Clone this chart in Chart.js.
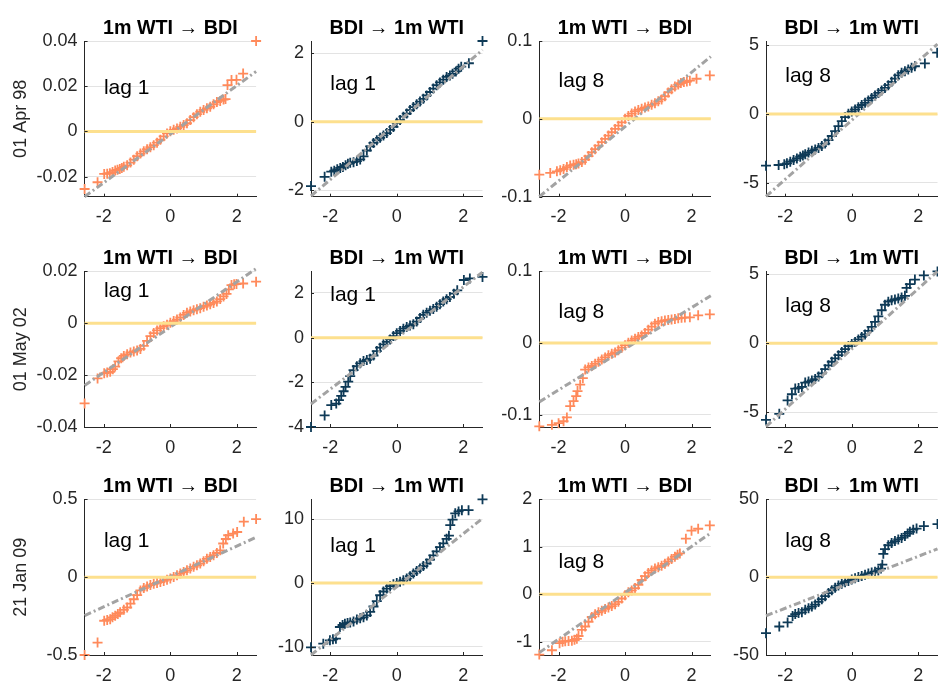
<!DOCTYPE html>
<html>
<head>
<meta charset="utf-8">
<script src="https://cdn.jsdelivr.net/npm/chart.js@4.4.0/dist/chart.umd.min.js"></script>
<style>
  html, body { margin: 0; padding: 0; background: #fff; width: 938px; height: 682px; overflow: hidden; }
  .panel { position: absolute; }
</style>
</head>
<body>
<script>
// Normal QQ plots of the residuals, one row per break date, one column per direction/lag.
const rowDates = ['01 Apr 98', '01 May 02', '21 Jan 09'];
const colTitles = ['1m WTI \u2192 BDI', 'BDI \u2192 1m WTI', '1m WTI \u2192 BDI', 'BDI \u2192 1m WTI'];
const colLags = ['lag 1', 'lag 1', 'lag 8', 'lag 8'];
const normalRange = [-2.58, 2.58];
const normalTicks = [-2, 0, 2];

// [standard normal quantile, sample quantile]
const apr98_wtiBdi_lag1 = [
  [-2.58,-0.0255],[-2.19,-0.0225],[-1.99,-0.0188],[-1.90,-0.0187],[-1.82,-0.0185],[-1.74,-0.0180],[-1.66,-0.0173],
  [-1.59,-0.0170],[-1.52,-0.0166],[-1.46,-0.0162],[-1.4,-0.0157],[-1.3,-0.0150],[-1.2,-0.0138],[-1.1,-0.0125],
  [-1.0,-0.0110],[-0.9,-0.0098],[-0.8,-0.0088],[-0.7,-0.0079],[-0.6,-0.0070],[-0.5,-0.0061],[-0.4,-0.0050],
  [-0.3,-0.0037],[-0.2,-0.0022],[-0.1,-0.0009],[0,0.0001],[0.1,0.0007],[0.2,0.0013],[0.3,0.0020],[0.4,0.0028],
  [0.5,0.0036],[0.6,0.0050],[0.7,0.0063],[0.8,0.0076],[0.9,0.0087],[1.0,0.0095],[1.1,0.0102],[1.2,0.0109],
  [1.3,0.0120],[1.4,0.0130],[1.5,0.0135],[1.6,0.0141],[1.66,0.0143],[1.72,0.0205],[1.84,0.0227],[1.99,0.0228],
  [2.19,0.0256],[2.58,0.0400]
];
const apr98_bdiWti_lag1 = [
  [-2.58,-1.88],[-2.17,-1.61],[-1.97,-1.46],[-1.88,-1.43],[-1.79,-1.39],[-1.70,-1.35],[-1.62,-1.32],[-1.54,-1.27],
  [-1.47,-1.23],[-1.4,-1.20],[-1.3,-1.18],[-1.2,-1.15],[-1.1,-1.10],[-1.0,-1.01],[-0.9,-0.84],[-0.8,-0.72],
  [-0.7,-0.62],[-0.6,-0.54],[-0.5,-0.47],[-0.4,-0.40],[-0.3,-0.33],[-0.2,-0.24],[-0.1,-0.15],[0,-0.03],[0.1,0.05],
  [0.2,0.15],[0.3,0.24],[0.4,0.34],[0.5,0.43],[0.6,0.51],[0.7,0.59],[0.8,0.67],[0.9,0.77],[1.0,0.87],[1.1,0.97],
  [1.2,1.07],[1.3,1.15],[1.4,1.23],[1.5,1.31],[1.6,1.35],[1.68,1.40],[1.78,1.47],[1.86,1.55],[1.94,1.61],
  [2.17,1.71],[2.58,2.36]
];
const apr98_wtiBdi_lag8 = [
  [-2.58,-0.0717],[-2.25,-0.0695],[-2.05,-0.0674],[-1.95,-0.0660],[-1.85,-0.0644],[-1.75,-0.0620],[-1.65,-0.0600],
  [-1.55,-0.0590],[-1.47,-0.0582],[-1.4,-0.0575],[-1.3,-0.0555],[-1.2,-0.0525],[-1.1,-0.0478],[-1.0,-0.0430],
  [-0.9,-0.0390],[-0.8,-0.0345],[-0.7,-0.0300],[-0.6,-0.0258],[-0.5,-0.0215],[-0.4,-0.0172],[-0.3,-0.0130],
  [-0.2,-0.0088],[-0.1,-0.0045],[0,0.0000],[0.1,0.0038],[0.2,0.0068],[0.3,0.0095],[0.4,0.0115],[0.5,0.0130],
  [0.6,0.0145],[0.7,0.0160],[0.8,0.0180],[0.9,0.0200],[1.0,0.0225],[1.1,0.0250],[1.2,0.0290],[1.3,0.0340],
  [1.4,0.0380],[1.5,0.0415],[1.6,0.0440],[1.68,0.0460],[1.77,0.0472],[1.86,0.0480],[1.95,0.0490],[2.15,0.0515],
  [2.55,0.0558]
];
const apr98_bdiWti_lag8 = [
  [-2.58,-3.76],[-2.20,-3.71],[-2.03,-3.65],[-1.95,-3.59],[-1.85,-3.47],[-1.75,-3.35],[-1.65,-3.23],[-1.55,-3.11],
  [-1.47,-3.02],[-1.4,-2.93],[-1.3,-2.80],[-1.2,-2.68],[-1.1,-2.58],[-1.0,-2.47],[-0.9,-2.33],[-0.8,-2.15],
  [-0.7,-1.90],[-0.6,-1.60],[-0.5,-1.25],[-0.4,-0.88],[-0.3,-0.52],[-0.2,-0.22],[-0.1,0.02],[0,0.18],[0.1,0.33],
  [0.2,0.50],[0.3,0.66],[0.4,0.82],[0.5,0.99],[0.6,1.17],[0.7,1.35],[0.8,1.54],[0.9,1.72],[1.0,1.90],[1.1,2.10],
  [1.2,2.35],[1.3,2.58],[1.4,2.82],[1.5,3.00],[1.6,3.12],[1.70,3.25],[1.80,3.38],[1.90,3.48],[2.20,3.69],
  [2.57,4.47]
];
const may02_wtiBdi_lag1 = [
  [-2.58,-0.0309],[-2.19,-0.0213],[-1.99,-0.0193],[-1.90,-0.0190],[-1.81,-0.0187],[-1.73,-0.0177],[-1.66,-0.0167],
  [-1.56,-0.0147],[-1.48,-0.0135],[-1.4,-0.0126],[-1.3,-0.0120],[-1.2,-0.0113],[-1.1,-0.0109],[-1.0,-0.0105],
  [-0.9,-0.0099],[-0.8,-0.0087],[-0.7,-0.0068],[-0.6,-0.0050],[-0.5,-0.0038],[-0.4,-0.0028],[-0.3,-0.0019],
  [-0.2,-0.0012],[-0.1,-0.0006],[0,0.0002],[0.1,0.0008],[0.2,0.0014],[0.3,0.0022],[0.4,0.0032],[0.5,0.0040],
  [0.6,0.0045],[0.7,0.0050],[0.8,0.0054],[0.9,0.0058],[1.0,0.0063],[1.1,0.0068],[1.2,0.0073],[1.3,0.0078],
  [1.4,0.0084],[1.5,0.0093],[1.6,0.0103],[1.69,0.0113],[1.76,0.0130],[1.84,0.0147],[1.92,0.0150],[1.99,0.0151],
  [2.19,0.0153],[2.58,0.0160]
];
const may02_bdiWti_lag1 = [
  [-2.58,-4.00],[-2.17,-3.48],[-1.97,-3.02],[-1.82,-2.95],[-1.74,-2.80],[-1.67,-2.61],[-1.60,-2.40],[-1.54,-2.20],
  [-1.46,-1.97],[-1.40,-1.72],[-1.3,-1.45],[-1.2,-1.28],[-1.1,-1.15],[-1.0,-1.05],[-0.9,-1.00],[-0.8,-0.94],
  [-0.7,-0.80],[-0.6,-0.60],[-0.5,-0.45],[-0.4,-0.30],[-0.3,-0.19],[-0.2,-0.08],[-0.1,0.07],[0,0.20],[0.1,0.30],
  [0.2,0.40],[0.3,0.48],[0.4,0.54],[0.5,0.60],[0.6,0.72],[0.7,0.88],[0.8,1.02],[0.9,1.12],[1.0,1.20],[1.1,1.28],
  [1.2,1.38],[1.3,1.50],[1.4,1.62],[1.5,1.72],[1.6,1.82],[1.72,1.97],[1.82,2.12],[2.02,2.58],[2.20,2.65],
  [2.58,2.72]
];
const may02_wtiBdi_lag8 = [
  [-2.58,-0.116],[-2.20,-0.114],[-2.00,-0.1116],[-1.85,-0.109],[-1.75,-0.1037],[-1.65,-0.088],[-1.55,-0.081],
  [-1.47,-0.074],[-1.43,-0.067],[-1.35,-0.058],[-1.27,-0.049],[-1.20,-0.037],[-1.1,-0.034],[-1.0,-0.032],
  [-0.9,-0.029],[-0.8,-0.026],[-0.7,-0.023],[-0.6,-0.020],[-0.5,-0.017],[-0.4,-0.015],[-0.3,-0.013],[-0.2,-0.010],
  [-0.1,-0.0065],[0,-0.003],[0.1,0.0005],[0.2,0.0035],[0.3,0.006],[0.4,0.0085],[0.5,0.0105],[0.6,0.014],
  [0.7,0.0186],[0.8,0.023],[0.9,0.027],[1.0,0.0295],[1.1,0.0305],[1.2,0.0315],[1.3,0.0322],[1.4,0.0328],
  [1.5,0.0335],[1.6,0.0345],[1.70,0.0352],[1.80,0.0355],[1.95,0.0358],[2.20,0.0386],[2.55,0.0400]
];
const may02_bdiWti_lag8 = [
  [-2.58,-5.56],[-2.18,-5.12],[-1.93,-4.15],[-1.80,-3.70],[-1.70,-3.29],[-1.60,-3.25],[-1.50,-3.17],[-1.4,-2.85],
  [-1.3,-2.78],[-1.2,-2.70],[-1.1,-2.60],[-1.0,-2.42],[-0.9,-2.18],[-0.8,-1.88],[-0.7,-1.60],[-0.6,-1.34],
  [-0.5,-1.10],[-0.4,-0.86],[-0.3,-0.63],[-0.2,-0.42],[-0.1,-0.20],[0,-0.05],[0.1,0.10],[0.2,0.28],[0.3,0.46],
  [0.4,0.64],[0.5,0.90],[0.6,1.20],[0.7,1.55],[0.8,1.95],[0.9,2.40],[1.0,2.80],[1.1,3.02],[1.2,3.12],[1.3,3.18],
  [1.4,3.25],[1.5,3.32],[1.6,3.45],[1.65,4.02],[1.75,4.30],[1.90,4.63],[2.17,4.93],[2.58,5.22]
];
const jan09_wtiBdi_lag1 = [
  [-2.58,-0.500],[-2.19,-0.420],[-1.99,-0.280],[-1.90,-0.275],[-1.81,-0.270],[-1.74,-0.258],[-1.66,-0.248],
  [-1.58,-0.236],[-1.51,-0.226],[-1.4,-0.210],[-1.3,-0.195],[-1.2,-0.170],[-1.1,-0.142],[-1.0,-0.115],[-0.9,-0.085],
  [-0.8,-0.070],[-0.7,-0.060],[-0.6,-0.051],[-0.5,-0.043],[-0.4,-0.037],[-0.3,-0.031],[-0.2,-0.024],[-0.1,-0.016],
  [0,-0.008],[0.1,0.001],[0.2,0.012],[0.3,0.023],[0.4,0.033],[0.5,0.044],[0.6,0.055],[0.7,0.066],[0.8,0.076],
  [0.9,0.087],[1.0,0.102],[1.1,0.118],[1.2,0.130],[1.3,0.141],[1.4,0.155],[1.5,0.172],[1.59,0.216],[1.67,0.245],
  [1.74,0.269],[1.89,0.280],[2.01,0.290],[2.21,0.356],[2.58,0.373]
];
const jan09_bdiWti_lag1 = [
  [-2.58,-10.1],[-2.21,-9.53],[-2.01,-9.00],[-1.92,-8.85],[-1.83,-8.74],[-1.71,-6.91],[-1.63,-6.60],[-1.56,-6.39],
  [-1.48,-6.30],[-1.4,-6.20],[-1.3,-6.05],[-1.2,-5.75],[-1.1,-5.55],[-1.0,-5.40],[-0.9,-5.10],[-0.8,-4.55],
  [-0.7,-3.70],[-0.6,-2.85],[-0.5,-1.94],[-0.4,-1.35],[-0.3,-0.89],[-0.2,-0.50],[-0.1,-0.21],[0,0.00],[0.1,0.16],
  [0.2,0.40],[0.3,0.68],[0.4,1.05],[0.5,1.47],[0.6,1.85],[0.7,2.25],[0.8,2.65],[0.9,3.04],[1.0,3.65],[1.1,4.30],
  [1.2,4.95],[1.3,5.60],[1.4,6.20],[1.5,6.90],[1.57,7.40],[1.61,9.06],[1.68,9.90],[1.76,10.9],[1.86,11.2],
  [1.96,11.4],[2.16,11.4],[2.58,13.1]
];
const jan09_wtiBdi_lag8 = [
  [-2.58,-1.27],[-2.20,-1.18],[-1.97,-1.03],[-1.88,-1.00],[-1.80,-0.99],[-1.70,-0.985],[-1.60,-0.98],[-1.52,-0.96],
  [-1.45,-0.94],[-1.4,-0.88],[-1.3,-0.75],[-1.2,-0.68],[-1.1,-0.58],[-1.0,-0.48],[-0.9,-0.42],[-0.8,-0.38],
  [-0.7,-0.35],[-0.6,-0.31],[-0.5,-0.28],[-0.4,-0.25],[-0.3,-0.21],[-0.2,-0.16],[-0.1,-0.09],[0,-0.02],[0.1,0.04],
  [0.2,0.08],[0.3,0.13],[0.4,0.20],[0.5,0.30],[0.6,0.38],[0.7,0.45],[0.8,0.50],[0.9,0.54],[1.0,0.57],[1.1,0.60],
  [1.2,0.64],[1.3,0.69],[1.4,0.74],[1.5,0.79],[1.58,0.83],[1.65,0.86],[1.83,1.17],[2.00,1.34],[2.20,1.38],
  [2.55,1.45]
];
const jan09_bdiWti_lag8 = [
  [-2.58,-36.0],[-2.18,-31.7],[-1.93,-29.1],[-1.78,-25.0],[-1.70,-23.7],[-1.60,-23.0],[-1.50,-22.6],[-1.4,-21.0],
  [-1.3,-20.0],[-1.2,-18.9],[-1.1,-17.6],[-1.0,-15.9],[-0.9,-14.2],[-0.8,-12.2],[-0.7,-10.2],[-0.6,-8.4],
  [-0.5,-6.8],[-0.4,-5.4],[-0.3,-4.2],[-0.2,-3.2],[-0.1,-2.4],[0,-1.5],[0.1,-0.7],[0.2,0.1],[0.3,0.8],[0.4,1.6],
  [0.5,2.4],[0.6,3.0],[0.7,3.5],[0.8,4.3],[0.88,5.5],[0.92,8.0],[0.95,15.0],[1.0,18.0],[1.1,20.5],[1.2,22.0],
  [1.3,23.2],[1.4,24.2],[1.5,25.2],[1.60,26.5],[1.68,28.0],[1.75,29.1],[1.85,30.5],[1.95,31.2],[2.17,32.8],
  [2.58,34.1]
];

const panelData = [
  apr98_wtiBdi_lag1, apr98_bdiWti_lag1, apr98_wtiBdi_lag8, apr98_bdiWti_lag8,
  may02_wtiBdi_lag1, may02_bdiWti_lag1, may02_wtiBdi_lag8, may02_bdiWti_lag8,
  jan09_wtiBdi_lag1, jan09_bdiWti_lag1, jan09_wtiBdi_lag8, jan09_bdiWti_lag8
];
const yLimits = [
  [-0.0289, 0.04], [-2.19, 2.36], [-0.1, 0.1], [-6.02, 5.32],
  [-0.04, 0.02], [-4, 2.97], [-0.117, 0.1], [-6.08, 5.23],
  [-0.5, 0.5], [-11.3, 13.1], [-1.28, 2], [-50, 50]
];
const yTickValues = [
  [-0.02, 0, 0.02, 0.04], [-2, 0, 2], [-0.1, 0, 0.1], [-5, 0, 5],
  [-0.04, -0.02, 0, 0.02], [-4, -2, 0, 2], [-0.1, 0, 0.1], [-5, 0, 5],
  [-0.5, 0, 0.5], [-10, 0, 10], [-1, 0, 1, 2], [-50, 0, 50]
];
// fitted reference line, value at each end of the normal range
const refLineEnds = [
  [-0.0289, 0.0265], [-2.17, 2.10], [-0.100, 0.080], [-6.0, 5.1],
  [-0.024, 0.021], [-2.97, 2.93], [-0.082, 0.066], [-6.05, 5.23],
  [-0.247, 0.256], [-11.3, 10.1], [-1.23, 1.29], [-24.8, 18.2]
];
// where the lag label sits (normal quantile, sample value)
const lagLabelAt = [
  [-2, 0.0192], [-2, 1.10], [-2, 0.048], [-2, 2.77],
  [-2, 0.0124], [-2, 1.92], [-2, 0.043], [-2, 2.71],
  [-2, 0.23], [-2, 5.75], [-2, 0.67], [-2, 23.2]
];

// ---- layout / style ----
const FONT = "'Liberation Sans', Arial, Helvetica, sans-serif";
const COL_LEFT = [84.6, 311, 539.3, 766];
const ROW_TOP = [41, 271.3, 499.3];
const PLOT_W = 171.5, PLOT_H = 155.7;
const TITLE_SIZE = 19.7;
const TITLE_PAD = { top: 6, bottom: 1 };
const TITLE_H = TITLE_PAD.top + TITLE_SIZE * 1.2 + TITLE_PAD.bottom;
const X_AXIS_H = 30, PAD_R = 10;
const SERIES_COLORS = ['#FF8A5B', '#0E3A57', '#FF8A5B', '#0E3A57'];
const INK = '#262626';

const lagText = {
  id: 'lagText',
  afterDatasetsDraw(chart, args, opts) {
    const { ctx, scales: { x, y } } = chart;
    ctx.save();
    ctx.font = '21px ' + FONT;
    ctx.fillStyle = '#000';
    ctx.textAlign = 'left';
    ctx.textBaseline = 'middle';
    ctx.fillText(opts.text, x.getPixelForValue(opts.at[0]), y.getPixelForValue(opts.at[1]));
    ctx.restore();
  }
};

// short tick marks pointing into the plot
const innerTicks = {
  id: 'innerTicks',
  afterDraw(chart) {
    const { ctx, chartArea: a, scales: { x, y } } = chart;
    ctx.save();
    ctx.strokeStyle = INK;
    ctx.lineWidth = 1;
    ctx.beginPath();
    x.ticks.forEach(t => {
      const px = Math.round(x.getPixelForValue(t.value)) + 0.5;
      ctx.moveTo(px, a.bottom); ctx.lineTo(px, a.bottom - 3);
    });
    y.ticks.forEach(t => {
      const py = Math.round(y.getPixelForValue(t.value)) + 0.5;
      ctx.moveTo(a.left, py); ctx.lineTo(a.left + 3, py);
    });
    ctx.stroke();
    ctx.restore();
  }
};

function makePanel(r, c) {
  const i = r * 4 + c;
  const yw = c === 0 ? COL_LEFT[0] : 70;
  const left = Math.floor(COL_LEFT[c] - yw);
  const yAxisW = COL_LEFT[c] - left;
  const top = Math.floor(ROW_TOP[r] - TITLE_H);
  const padTop = ROW_TOP[r] - TITLE_H - top;
  const w = Math.ceil(yAxisW + PLOT_W + PAD_R);
  const h = Math.ceil(padTop + TITLE_H + PLOT_H + X_AXIS_H);
  const padR = w - yAxisW - PLOT_W;
  const xAxisH = h - padTop - TITLE_H - PLOT_H;

  const canvas = document.createElement('canvas');
  canvas.className = 'panel';
  canvas.width = w; canvas.height = h;
  canvas.style.left = left + 'px';
  canvas.style.top = top + 'px';
  canvas.style.width = w + 'px';
  canvas.style.height = h + 'px';
  document.body.appendChild(canvas);

  const color = SERIES_COLORS[c];
  const [lo, hi] = normalRange;
  const tickFont = { family: FONT, size: 18 };

  new Chart(canvas, {
    type: 'scatter',
    data: {
      datasets: [
        {
          data: [{ x: lo, y: 0 }, { x: hi, y: 0 }],
          showLine: true, borderColor: '#FDE08E', borderWidth: 3, pointRadius: 0, clip: false
        },
        {
          data: [{ x: lo, y: refLineEnds[i][0] }, { x: hi, y: refLineEnds[i][1] }],
          showLine: true, borderColor: '#A3A3A3', borderWidth: 3, borderDash: [7, 3, 2, 3],
          pointRadius: 0, clip: false
        },
        {
          data: panelData[i].map(p => ({ x: p[0], y: p[1] })),
          showLine: false, pointStyle: 'cross', pointRadius: 5, pointBorderWidth: 1.8,
          pointBorderColor: color, pointBackgroundColor: color, clip: false
        }
      ]
    },
    options: {
      responsive: false,
      animation: false,
      events: [],
      layout: { padding: { top: padTop, right: padR, left: 0, bottom: 0 } },
      plugins: {
        legend: { display: false },
        tooltip: { enabled: false },
        title: {
          display: true,
          fullSize: false,   // centre over the plot area, not the canvas
          text: colTitles[c],
          color: '#000',
          font: { family: FONT, size: TITLE_SIZE, weight: 'bold', lineHeight: 1.2 },
          padding: TITLE_PAD
        },
        lagText: { text: colLags[c], at: lagLabelAt[i] }
      },
      scales: {
        x: {
          type: 'linear',
          min: lo, max: hi,
          afterBuildTicks: s => { s.ticks = normalTicks.map(v => ({ value: v })); },
          afterFit: s => { s.height = xAxisH; },
          grid: { display: false, drawTicks: false },
          border: { display: true, color: INK, width: 1 },
          ticks: { font: tickFont, color: INK, padding: 10, maxRotation: 0, autoSkip: false, callback: v => String(v) }
        },
        y: {
          type: 'linear',
          min: yLimits[i][0], max: yLimits[i][1],
          afterBuildTicks: s => { s.ticks = yTickValues[i].map(v => ({ value: v })); },
          afterFit: s => { s.width = yAxisW; },
          grid: { color: '#E3E3E3', lineWidth: 1, drawTicks: false },
          border: { display: true, color: INK, width: 1 },
          ticks: { font: tickFont, color: INK, padding: 7, autoSkip: false, callback: v => String(v) },
          title: {
            display: c === 0,
            text: rowDates[r],
            color: INK,
            font: { family: FONT, size: 18, lineHeight: 1.2 },
            padding: { top: 10, bottom: 0 }
          }
        }
      }
    },
    plugins: [lagText, innerTicks]
  });
}

for (let r = 0; r < 3; r++) {
  for (let c = 0; c < 4; c++) makePanel(r, c);
}
</script>
</body>
</html>
